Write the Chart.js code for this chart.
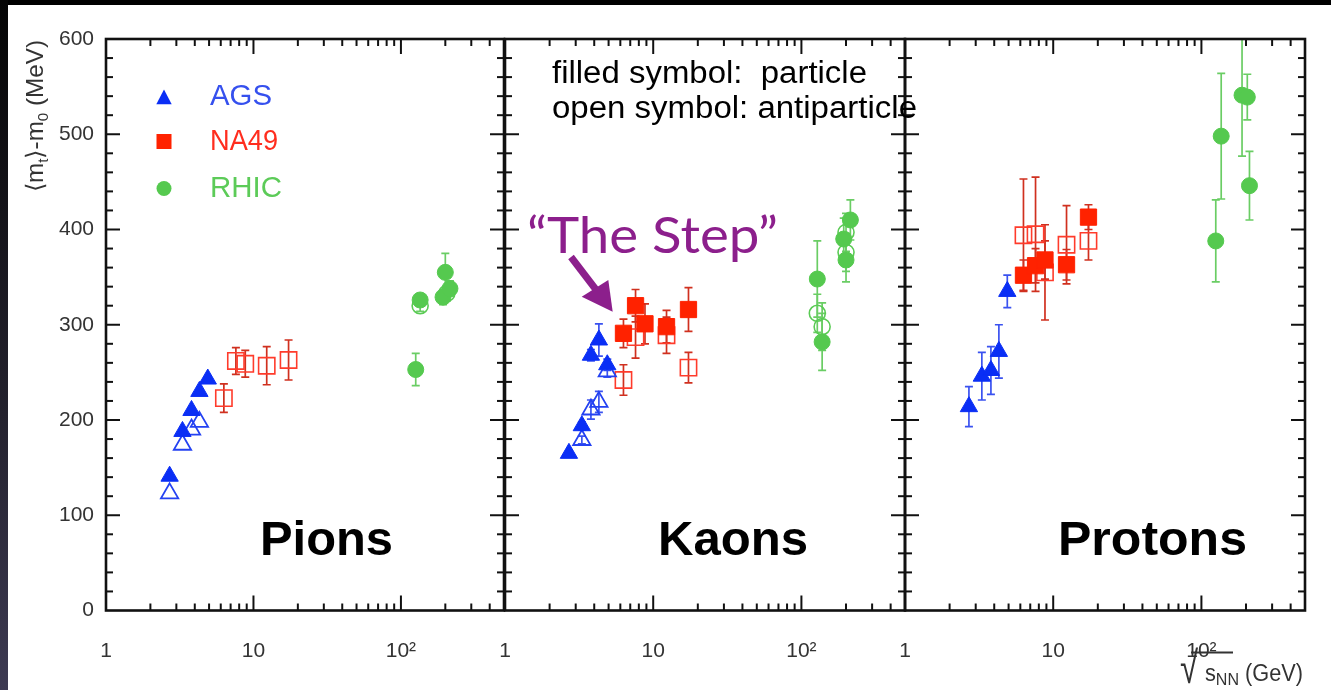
<!DOCTYPE html>
<html><head><meta charset="utf-8">
<script src="https://cdn.jsdelivr.net/npm/chart.js@4.4.1/dist/chart.umd.min.js"></script>
<style>
html,body{margin:0;padding:0;background:#000;width:1331px;height:690px;overflow:hidden;}
#strip{position:absolute;left:0;top:0;width:8px;height:690px;background:linear-gradient(#050505,#24222e 60%,#3d3a52);}
#paper{position:absolute;left:8px;top:5px;width:1323px;height:685px;background:#fff;}
canvas{position:absolute;left:0;top:0;}
svg{position:absolute;left:0;top:0;}
</style></head><body>
<div id="strip"></div><div id="paper"></div>
<canvas id="c1" width="1331" height="690"></canvas>
<canvas id="c2" width="1331" height="690"></canvas>
<canvas id="c3" width="1331" height="690"></canvas>
<svg id="ov" width="1331" height="690" xmlns="http://www.w3.org/2000/svg" font-family="Liberation Sans, Arial, sans-serif">
  <!-- y axis title -->
  <text transform="translate(43,192) rotate(-90)" font-size="24" fill="#333" textLength="152" lengthAdjust="spacingAndGlyphs">⟨m<tspan font-size="15" dy="5">t</tspan><tspan dy="-5">⟩-m</tspan><tspan font-size="15" dy="5">0</tspan><tspan dy="-5"> (MeV)</tspan></text>
  <!-- x axis title -->
  <text transform="translate(1180,683) scale(1.1,1.5)" font-size="30" fill="#333">√</text>
  <line x1="1191" y1="652.5" x2="1233" y2="652.5" stroke="#333" stroke-width="2"/>
  <text x="1205" y="681" font-size="23" fill="#333" textLength="98" lengthAdjust="spacingAndGlyphs">s<tspan font-size="17" dy="4">NN</tspan><tspan dy="-4"> (GeV)</tspan></text>
  <!-- legend -->
  <polygon points="164,89.5 171.7,104.3 156.3,104.3" fill="#0a2ef5"/>
  <rect x="156.5" y="134" width="15" height="15" fill="#ff2200"/>
  <circle cx="164" cy="188.5" r="7.5" fill="#55c94f"/>
  <text x="210" y="105" font-size="29" fill="#3550ee" textLength="62" lengthAdjust="spacingAndGlyphs">AGS</text>
  <text x="210" y="150" font-size="29" fill="#ff2d1e" textLength="68" lengthAdjust="spacingAndGlyphs">NA49</text>
  <text x="210" y="197" font-size="29" fill="#5ccb58" textLength="72" lengthAdjust="spacingAndGlyphs">RHIC</text>
  <!-- annotation -->
  <text x="552" y="83" font-size="31" fill="#000" style="white-space:pre" textLength="315" lengthAdjust="spacingAndGlyphs">filled symbol:  particle</text>
  <text x="552" y="118" font-size="31" fill="#000" textLength="365" lengthAdjust="spacingAndGlyphs">open symbol: antiparticle</text>
  <text x="527" y="253" font-family="Lato, sans-serif" font-size="50" fill="#8c1f8c" textLength="251" lengthAdjust="spacingAndGlyphs">“The Step”</text>
  <line x1="571" y1="257" x2="597" y2="291" stroke="#8c1f8c" stroke-width="7"/>
  <polygon points="581.7,296.7 608.3,280 612.7,311.7" fill="#8c1f8c"/>
  <!-- panel names -->
  <text x="260" y="555" font-size="49" font-weight="bold" fill="#000" textLength="133" lengthAdjust="spacingAndGlyphs">Pions</text>
  <text x="658" y="555" font-size="49" font-weight="bold" fill="#000" textLength="150" lengthAdjust="spacingAndGlyphs">Kaons</text>
  <text x="1058" y="555" font-size="49" font-weight="bold" fill="#000" textLength="189" lengthAdjust="spacingAndGlyphs">Protons</text>
</svg>
<script>
// ---------- axis definitions ----------
const xMin = 1, xMax = 500;
const yMin = 0, yMax = 600;
const xTickValues = [1,2,3,4,5,6,7,8,9,10,20,30,40,50,60,70,80,90,100,200,300,400,500];
const xTickLabelValues = [1, 10, 100];
const xTickLabelTexts = ['1', '10', '10²'];
const yMinorStep = 20, yMajorStep = 100;

// ---------- data (sqrt(s_NN) in GeV, <m_t>-m_0 in MeV) ----------
const agsEnergy  = [2.7, 3.3, 3.8, 4.3, 4.9];
const na49Energy = [6.3, 7.6, 8.8, 12.3, 17.3];

// Pions
const pionAgsPartY   = [141, 188, 210, 230, 243];
const pionAgsAntiX   = [2.7, 3.3, 3.8, 4.3];
const pionAgsAntiY   = [123, 174, 190, 198];
const pionNa49AntiY  = [223, 262, 259, 257, 263];
const pionNa49AntiE  = [15, 14, 14, 20, 21];
const pionRhicPartX  = [126, 135, 193, 200, 215];
const pionRhicPartY  = [253, 326, 329, 355, 338];
const pionRhicPartE  = [17, 6, 8, 20, 8];
const pionRhicAntiX  = [135, 205];
const pionRhicAntiY  = [320, 333];
const pionRhicAntiE  = [6, 8];

// Kaons
const kaonAgsPartY   = [165, 194, 268, 284, 258];
const kaonAgsPartE   = [3, 4, 6, 17, 6];
const kaonAgsAntiX   = [3.3, 3.8, 4.3, 4.9];
const kaonAgsAntiY   = [179, 211, 219, 251];
const kaonAgsAntiE   = [4, 10, 11, 6];
const kaonNa49PartY  = [291, 320, 301, 298, 316];
const kaonNa49PartE  = [15, 17, 21, 17, 23];
const kaonNa49AntiX  = [6.3, 7.6, 12.3, 17.3];
const kaonNa49AntiY  = [242, 287, 289, 255];
const kaonNa49AntiE  = [16, 22, 19, 16];
const kaonRhicPartX  = [128, 138, 193, 200, 214];
const kaonRhicPartY  = [348, 282, 390, 368, 410];
const kaonRhicPartE  = [40, 30, 22, 23, 21];
const kaonRhicAntiX  = [128, 138, 200, 200];
const kaonRhicAntiY  = [312, 298, 397, 376];
const kaonRhicAntiE  = [20, 25, 20, 20];

// Protons
const protonAgsPartY  = [214, 246, 252, 272, 335];
const protonAgsPartE  = [21, 25, 25, 28, 17];
const protonNa49PartY = [352, 362, 368, 363, 413];
const protonNa49PartE = [16, 18, 20, 16, 13];
const protonNa49AntiY = [394, 395, 355, 384, 388];
const protonNa49AntiE = [59, 60, 50, 41, 20];
const protonRhicPartX = [125, 136, 188, 204, 211];
const protonRhicPartY = [388, 498, 541, 539, 446];
const protonRhicPartE = [43, 66, 64, 24, 36];

// ---------- styles ----------
const styles = {
  agsFilled:  {ps:'triangle', r:10,   fill:'#0a2ef5', stroke:'#0a2ef5', bw:1,   err:'#3a52f0'},
  agsOpen:    {ps:'triangle', r:10,   fill:'rgba(255,255,255,0)', stroke:'#2442f2', bw:1.8, err:'#3a52f0'},
  na49Filled: {ps:'rect',     r:11.5, fill:'#ff2200', stroke:'#ff2200', bw:1,   err:'#d0301f'},
  na49Open:   {ps:'rect',     r:11.5, fill:'rgba(255,255,255,0)', stroke:'#ff3b2b', bw:1.6, err:'#d0301f'},
  rhicFilled: {ps:'circle',   r:8,    fill:'#55c94f', stroke:'#55c94f', bw:1,   err:'#6acd64'},
  rhicOpen:   {ps:'circle',   r:8,    fill:'rgba(255,255,255,0)', stroke:'#5acb54', bw:1.6, err:'#6acd64'}
};

// ---------- layout ----------
const AREA_TOP = 39, AREA_BOTTOM = 610.5, Y_AXIS_W = 60, X_AXIS_H = 60, W = 1331, H = 690;
const panels = [
  {id:'c1', left:106, right:504, showY:true, series:[
    {x:agsEnergy, y:pionAgsPartY, e:null, s:'agsFilled'},
    {x:pionAgsAntiX, y:pionAgsAntiY, e:null, s:'agsOpen'},
    {x:na49Energy, y:pionNa49AntiY, e:pionNa49AntiE, s:'na49Open'},
    {x:pionRhicPartX, y:pionRhicPartY, e:pionRhicPartE, s:'rhicFilled'},
    {x:pionRhicAntiX, y:pionRhicAntiY, e:pionRhicAntiE, s:'rhicOpen'}
  ]},
  {id:'c2', left:505, right:905, showY:false, series:[
    {x:agsEnergy, y:kaonAgsPartY, e:kaonAgsPartE, s:'agsFilled'},
    {x:kaonAgsAntiX, y:kaonAgsAntiY, e:kaonAgsAntiE, s:'agsOpen'},
    {x:na49Energy, y:kaonNa49PartY, e:kaonNa49PartE, s:'na49Filled'},
    {x:kaonNa49AntiX, y:kaonNa49AntiY, e:kaonNa49AntiE, s:'na49Open'},
    {x:kaonRhicPartX, y:kaonRhicPartY, e:kaonRhicPartE, s:'rhicFilled'},
    {x:kaonRhicAntiX, y:kaonRhicAntiY, e:kaonRhicAntiE, s:'rhicOpen'}
  ]},
  {id:'c3', left:905, right:1305, showY:false, series:[
    {x:agsEnergy, y:protonAgsPartY, e:protonAgsPartE, s:'agsFilled'},
    {x:na49Energy, y:protonNa49PartY, e:protonNa49PartE, s:'na49Filled'},
    {x:na49Energy, y:protonNa49AntiY, e:protonNa49AntiE, s:'na49Open'},
    {x:protonRhicPartX, y:protonRhicPartY, e:protonRhicPartE, s:'rhicFilled'}
  ]}
];

const errorBars = {
  id:'errorBars',
  beforeDatasetsDraw(chart){
    const {ctx, chartArea:a, scales:{x, y}} = chart;
    ctx.save();
    ctx.beginPath(); ctx.rect(a.left, a.top, a.right - a.left, a.bottom - a.top); ctx.clip();
    chart.data.datasets.forEach(ds => {
      if (!ds.errors) return;
      ctx.strokeStyle = ds.errColor; ctx.lineWidth = 1.7;
      ds.data.forEach((pt, i) => {
        const e = ds.errors[i]; if (!e) return;
        const px = x.getPixelForValue(pt.x);
        const pt1 = y.getPixelForValue(pt.y + e), pb = y.getPixelForValue(pt.y - e);
        ctx.beginPath();
        ctx.moveTo(px, pt1); ctx.lineTo(px, pb);
        ctx.moveTo(px - 4, pt1); ctx.lineTo(px + 4, pt1);
        ctx.moveTo(px - 4, pb); ctx.lineTo(px + 4, pb);
        ctx.stroke();
      });
    });
    ctx.restore();
  }
};

const frameTicks = {
  id:'frameTicks',
  afterDraw(chart){
    const {ctx, chartArea:a, scales:{x, y}} = chart;
    ctx.save();
    ctx.strokeStyle = '#111'; ctx.lineWidth = 2;
    const seg = (x1,y1,x2,y2) => { ctx.beginPath(); ctx.moveTo(x1,y1); ctx.lineTo(x2,y2); ctx.stroke(); };
    x.ticks.forEach(t => {
      const px = x.getPixelForValue(t.value);
      if (px < a.left + 2 || px > a.right - 2) return;
      const L = xTickLabelValues.includes(t.value) ? 15 : 7;
      seg(px, a.bottom, px, a.bottom - L);
      seg(px, a.top, px, a.top + L);
    });
    y.ticks.forEach(t => {
      const py = y.getPixelForValue(t.value);
      if (py < a.top + 2 || py > a.bottom - 2) return;
      const L = t.value % yMajorStep === 0 ? 14 : 7;
      seg(a.left, py, a.left + L, py);
      seg(a.right, py, a.right - L, py);
    });
    ctx.lineWidth = 2.6;
    ctx.strokeRect(a.left, a.top, a.right - a.left, a.bottom - a.top);
    ctx.restore();
  }
};

const tickFont = {family:'Liberation Sans, Arial, sans-serif', size:21};

panels.forEach(p => {
  const datasets = p.series.map(s => {
    const st = styles[s.s];
    return {
      data: s.x.map((xv, i) => ({x: xv, y: s.y[i]})),
      errors: s.e, errColor: st.err,
      pointStyle: st.ps, pointRadius: st.r,
      pointBackgroundColor: st.fill, pointBorderColor: st.stroke, pointBorderWidth: st.bw,
      showLine: false
    };
  });
  const yW = p.showY ? Y_AXIS_W : 0;
  new Chart(document.getElementById(p.id), {
    type: 'scatter',
    data: {datasets},
    options: {
      responsive: false, animation: false, events: [],
      layout: {padding: {left: p.left - yW, right: W - p.right, top: AREA_TOP, bottom: H - AREA_BOTTOM - X_AXIS_H}},
      plugins: {legend: {display: false}, tooltip: {enabled: false}},
      scales: {
        x: {
          type: 'logarithmic', min: xMin, max: xMax,
          afterBuildTicks: sc => { sc.ticks = xTickValues.map(v => ({value: v})); },
          afterFit: sc => { sc.height = X_AXIS_H; },
          grid: {display: false}, border: {display: false},
          ticks: {autoSkip: false, maxRotation: 0, minRotation: 0, padding: 20, color: '#333', font: tickFont,
            callback: v => { const i = xTickLabelValues.indexOf(v); return i >= 0 ? xTickLabelTexts[i] : ''; }}
        },
        y: {
          min: yMin, max: yMax,
          afterFit: sc => { sc.width = yW; },
          grid: {display: false}, border: {display: false},
          ticks: {display: p.showY, stepSize: yMinorStep, autoSkip: false, padding: 4, color: '#333', font: tickFont,
            callback: v => (v % yMajorStep === 0 ? String(v) : '')}
        }
      }
    },
    plugins: [errorBars, frameTicks]
  });
});
</script>
</body></html>
